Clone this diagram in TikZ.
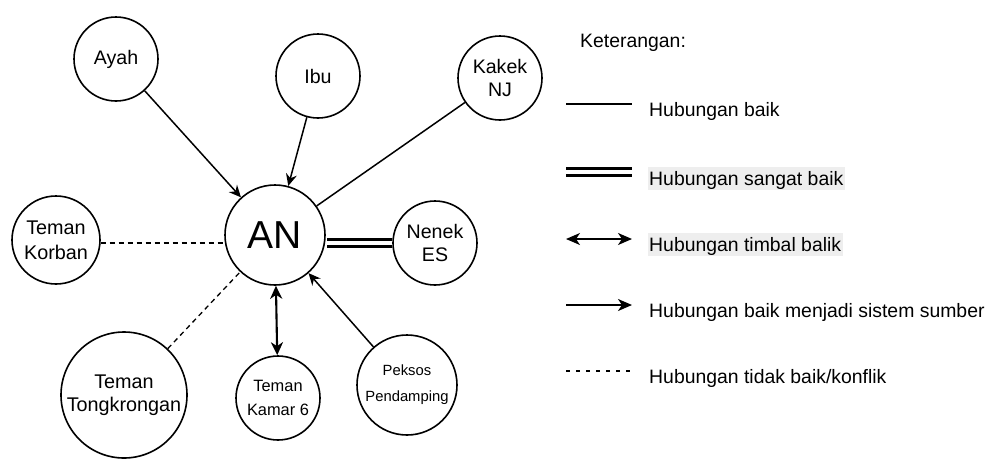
\documentclass[tikz,border=0pt]{standalone}
\usepackage{fontspec}
\setmainfont{Liberation Sans}
\usetikzlibrary{arrows.meta}
\definecolor{hl}{HTML}{EEEEEE}
\begin{document}
\begin{tikzpicture}[x=1pt,y=-1pt,
  person/.style={circle, draw, line width=1.6pt, inner sep=0pt, align=center,
    font=\fontsize{19.6}{23.5}\selectfont},
  rel/.style={line width=1.5pt},
  tip/.style={-{Stealth[length=12pt,width=11pt,inset=4pt]}},
  bitip/.style={{Stealth[length=13pt,width=12pt,inset=4pt]}-{Stealth[length=13pt,width=12pt,inset=4pt]}},
  conflict/.style={line width=1.3pt, dash pattern=on 5pt off 4pt},
  strong/.style={double, double distance=4pt, line width=2.8pt},
  legtext/.style={anchor=base west, inner sep=0pt, font=\fontsize{19.4}{23}\selectfont},
  leghl/.style={legtext, fill=hl, inner xsep=1.5pt, text height=18.5pt, text depth=4.5pt}
]
\useasboundingbox (0,0) rectangle (995,461);

% people
\node[person, minimum size=100pt, font=\fontsize{39}{44}\selectfont] (an) at (275,235) {AN};
\node[person, minimum size=84pt] (ayah) at (116,59) {Ayah};
\node[person, minimum size=84pt] (ibu) at (318,76) {Ibu};
\node[person, minimum size=84pt] (kakek) at (500,78) {Kakek\\NJ};
\node[person, minimum size=88pt, font=\fontsize{19.8}{25}\selectfont] (korban) at (56,240) {Teman\\Korban};
\node[person, minimum size=84pt] (nenek) at (435,243) {Nenek\\ES};
\node[person, minimum size=126pt, font=\fontsize{19.8}{23.5}\selectfont] (tongk) at (124,395) {Teman\\Tongkrongan};
\node[person, minimum size=84pt, font=\fontsize{16.4}{24}\selectfont] (kamar) at (278,398) {Teman\\Kamar 6};
\node[person, minimum size=100pt, font=\fontsize{14.8}{26}\selectfont] (peksos) at (407,385) {Peksos\\Pendamping};

% relations
\draw[rel, tip] (ayah) -- (an);
\draw[rel, tip] (ibu) -- (an);
\draw[rel] (kakek) -- (an);
\draw[conflict] (korban.-4) -- (korban.-4 -| an.west);
\draw[conflict] (tongk) -- (an);
\draw[strong] (nenek.west) -- ([xshift=1pt]nenek.west -| an.east);
\draw[line width=2.1pt, bitip] (an) -- (kamar);
\draw[rel, tip] (peksos) -- (an);

% legend
\node[legtext] (ket) at (580,47) {Keterangan:};

\coordinate (l1a) at (566,104); \coordinate (l1b) at (632,104);
\draw[line width=1.4pt] (l1a) -- (l1b);
\node[legtext] (t1) at (649,116) {Hubungan baik};

\coordinate (l2a) at (566,172); \coordinate (l2b) at (632,172);
\draw[double, double distance=4pt, line width=2.9pt] (l2a) -- (l2b);
\node[leghl] (t2) at (647.5,185) {Hubungan sangat baik};

\coordinate (l3a) at (566,239); \coordinate (l3b) at (632,239);
\draw[line width=1.6pt, {Stealth[length=14pt,width=12pt,inset=4pt]}-{Stealth[length=14pt,width=12pt,inset=4pt]}] (l3a) -- (l3b);
\node[leghl] (t3) at (647.5,251) {Hubungan timbal balik};

\coordinate (l4a) at (566,305); \coordinate (l4b) at (632,305);
\draw[line width=1.6pt, -{Stealth[length=14pt,width=12pt,inset=4pt]}] (l4a) -- (l4b);
\node[legtext] (t4) at (649,317) {Hubungan baik menjadi sistem sumber};

\coordinate (l5a) at (566,371); \coordinate (l5b) at (632,371);
\draw[line width=1.1pt, dash pattern=on 4pt off 6pt] (l5a) -- (l5b);
\node[legtext] (t5) at (649,383) {Hubungan tidak baik/konflik};
\end{tikzpicture}
\end{document}
